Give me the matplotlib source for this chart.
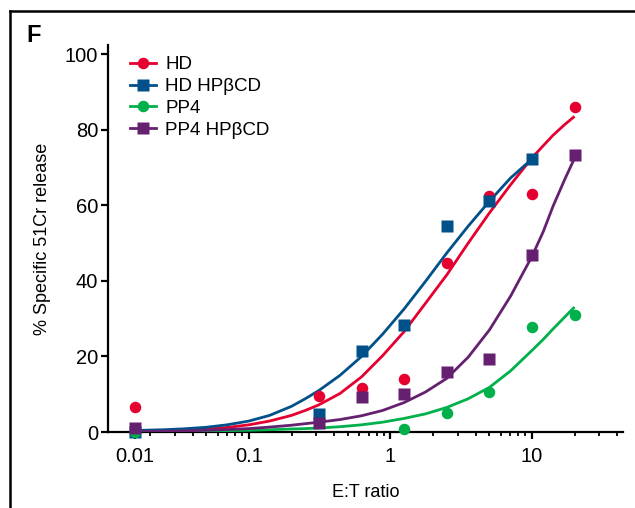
import numpy as np
import matplotlib
matplotlib.use("Agg")
import matplotlib.pyplot as plt
from matplotlib.ticker import FixedLocator, FixedFormatter, LogLocator, NullFormatter
from matplotlib.lines import Line2D

plt.rcParams['font.family'] = ['Liberation Sans', 'DejaVu Sans']

# measured points (E:T ratio, % specific release); nan = not shown
et = [0.0156, 0.3125, 0.625, 1.25, 2.5, 5, 10, 20]
hd = [6.5, 9.5, 11.6, 14.1, 44.7, 62.4, 63.0, 86.1]
hd_hp = [0.0, 4.8, 21.5, 28.3, 54.6, 61.1, 72.4, np.nan]
pp4 = [0.0, np.nan, np.nan, 0.7, 5.1, 10.7, 27.9, 30.9]
pp4_hp = [1.0, 2.4, 9.4, 10.1, 15.8, 19.4, 47.0, 73.4]

# fitted curves
fit_x = [0.0156, 0.025, 0.035, 0.05, 0.07, 0.1, 0.14, 0.2, 0.25, 0.3125, 0.44,
         0.625, 0.88, 1.25, 1.77, 2.5, 3.54, 5, 7.07, 10, 12, 14.1, 17, 20]
fit_hd = [0.2, 0.35, 0.5, 0.8, 1.2, 1.9, 2.9, 4.4, 5.7, 7.2, 10.2,
          14.6, 20.2, 26.6, 34.1, 41.6, 50.0, 58.0, 65.5, 72.6, 75.8, 78.6, 81.4, 83.6]
fit_hd_hp = [0.4, 0.6, 0.85, 1.25, 1.9, 2.9, 4.4, 6.8, 8.8, 11.0, 15.0,
             20.0, 25.9, 32.6, 39.9, 47.4, 54.5, 61.1, 67.3, 72.3,
             np.nan, np.nan, np.nan, np.nan]
fit_pp4 = [0.1, 0.15, 0.2, 0.25, 0.35, 0.45, 0.6, 0.8, 0.9, 1.05, 1.4,
           1.9, 2.6, 3.6, 4.8, 6.5, 8.8, 11.8, 16.2, 21.6, 24.5, 27.3, 30.4, 33.1]
fit_pp4_hp = [0.1, 0.2, 0.3, 0.45, 0.65, 0.9, 1.3, 1.8, 2.2, 2.6, 3.3,
              4.3, 5.7, 7.8, 10.6, 14.2, 19.8, 27.0, 36.0, 46.5, 53.0, 59.8, 66.8, 72.5]

names = ['HD', 'HD HP\u03b2CD', 'PP4', 'PP4 HP\u03b2CD']
colors = ['#E5002F', '#005189', '#00B04A', '#652070']
markers = ['o', 's', 'o', 's']

fig = plt.figure(figsize=(6.35, 5.08), dpi=100)
ax = fig.add_axes([108/635, 1-432/508, 515/635, 387/508])

for pts, fit, name, c, m in zip([hd, hd_hp, pp4, pp4_hp],
                                [fit_hd, fit_hd_hp, fit_pp4, fit_pp4_hp],
                                names, colors, markers):
    ax.plot(fit_x, fit, color=c, lw=2.0, solid_capstyle='butt',
            solid_joinstyle='round', zorder=3)
    ax.plot(et, pts, ls='none', marker=m, ms=8.3, color=c, mec='none',
            clip_on=False, zorder=4)
    ax.plot([], [], color=c, lw=2.0, marker=m, ms=8.3, mec='none', label=name)

ax.set_xscale('log')
ax.set_xlim(0.0101, 44)
ax.set_ylim(0, 102.5)

ax.xaxis.set_major_locator(FixedLocator([0.0156, 0.1, 1, 10]))
ax.xaxis.set_major_formatter(FixedFormatter(['0.01', '0.1', '1', '10']))
ax.xaxis.set_minor_locator(LogLocator(base=10, subs=np.arange(2, 10)))
ax.xaxis.set_minor_formatter(NullFormatter())
ax.set_yticks([0, 20, 40, 60, 80, 100])

for s in ['top', 'right']:
    ax.spines[s].set_visible(False)
for s in ['left', 'bottom']:
    ax.spines[s].set_linewidth(1.6)
ax.tick_params(which='major', length=5, width=1.6, labelsize=14.5)
ax.tick_params(axis='x', which='major', pad=6)
ax.tick_params(axis='y', which='major', pad=2)
ax.tick_params(which='minor', length=3, width=1.3)

ax.set_xlabel('E:T ratio', fontsize=13, labelpad=13)
ax.set_ylabel('% Specific 51Cr release', fontsize=13, labelpad=10)

ax.legend(loc='upper left', bbox_to_anchor=(0.02, 1.0), frameon=False,
          fontsize=13.5, handlelength=1.4, handletextpad=0.5, labelspacing=0.25,
          borderaxespad=0.2)

fig.text(26/635, 1-36/508, 'F', fontsize=17, fontweight='bold', va='center')

fig.add_artist(Line2D([9.5/635, 9.5/635], [0, 1-10.5/508], color='black', lw=1.8))
fig.add_artist(Line2D([9.5/635, 1], [1-10.5/508, 1-10.5/508], color='black', lw=1.8))

fig.savefig('out.png', dpi=100)
